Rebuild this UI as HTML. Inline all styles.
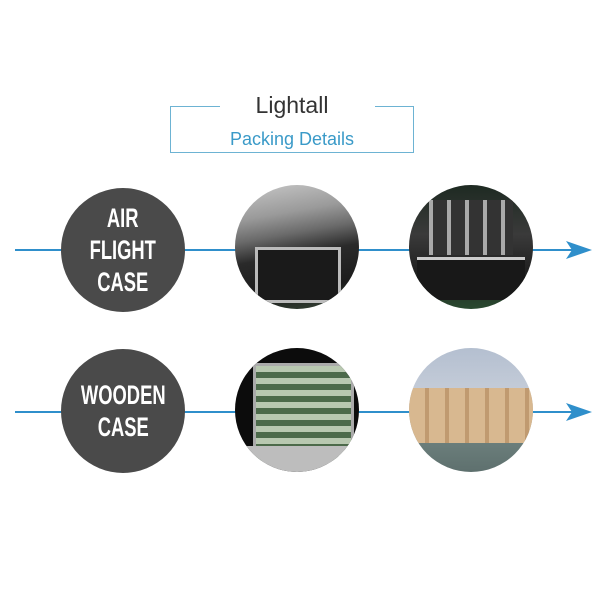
<!DOCTYPE html>
<html><head><style>
body{margin:0;background:#fff;width:600px;height:600px;overflow:hidden;position:relative;font-family:"Liberation Sans",sans-serif}
.a{position:absolute}
.c{position:absolute;border-radius:50%;overflow:hidden}
.dk{background:#4a4a4a;color:#fff;font-family:"Liberation Sans",sans-serif;font-weight:bold;text-align:center;display:flex;align-items:center;justify-content:center;font-size:27px;line-height:32px}
.dk span{display:inline-block;transform:scaleX(0.68)}
.ln{position:absolute;height:2px;background:#2f8fcb}
</style></head><body>
<div class="a" style="left:170px;top:106px;width:50px;height:1px;background:#6db3d3"></div>
<div class="a" style="left:375px;top:106px;width:39px;height:1px;background:#6db3d3"></div>
<div class="a" style="left:170px;top:106px;width:1px;height:47px;background:#6db3d3"></div>
<div class="a" style="left:413px;top:106px;width:1px;height:47px;background:#6db3d3"></div>
<div class="a" style="left:170px;top:152px;width:244px;height:1px;background:#6db3d3"></div>
<div class="a" style="left:217px;top:92px;width:150px;text-align:center;font-size:23px;color:#333">Lightall</div>
<div class="a" style="left:192px;top:129px;width:200px;text-align:center;font-size:18px;color:#3a9ac8">Packing Details</div>

<div class="ln" style="left:15px;top:249px;width:565px"></div>
<svg class="a" style="left:566px;top:241px" width="26" height="18"><polygon points="0,0 26,9 0,18 6,9" fill="#2f8fcb"/></svg>
<div class="ln" style="left:15px;top:411px;width:565px"></div>
<svg class="a" style="left:566px;top:403px" width="26" height="18"><polygon points="0,0 26,9 0,18 6,9" fill="#2f8fcb"/></svg>

<div class="c dk" style="left:61px;top:188px;width:124px;height:124px"><span>AIR<br>FLIGHT<br>CASE</span></div>
<div class="c dk" style="left:61px;top:349px;width:124px;height:124px"><span>WOODEN<br>CASE</span></div>

<div class="c" style="left:235px;top:185px;width:124px;height:124px;background:linear-gradient(170deg,#c8c8c8 0%,#9a9a9a 25%,#6a6a6a 40%,#2a2a2a 55%,#1c1c1c 80%,#3a4a3a 100%)">
<div class="a" style="left:20px;top:62px;width:80px;height:50px;background:#1a1a1a;border:3px solid #bbb"></div></div>
<div class="c" style="left:409px;top:185px;width:124px;height:124px;background:linear-gradient(180deg,#1e2a22 0%,#3a3a3a 40%,#202020 70%,#2a4a30 100%)">
<div class="a" style="left:20px;top:15px;width:84px;height:55px;background:repeating-linear-gradient(90deg,#aaa 0 4px,#333 4px 18px)"></div>
<div class="a" style="left:8px;top:72px;width:108px;height:40px;background:#181818;border-top:3px solid #ccc"></div></div>

<div class="c" style="left:235px;top:348px;width:124px;height:124px;background:#0c0c0c">
<div class="a" style="left:18px;top:15px;width:95px;height:95px;background:repeating-linear-gradient(180deg,#b8c8b0 0 6px,#4c6a4a 6px 12px);border:3px solid #aaa"></div>
<div class="a" style="left:0;top:98px;width:124px;height:30px;background:#bdbdbd"></div></div>
<div class="c" style="left:409px;top:348px;width:124px;height:124px;background:linear-gradient(180deg,#b4bfd0 0%,#c4ccd8 35%,#6c7f7c 75%,#5e706e 100%)">
<div class="a" style="left:0;top:40px;width:124px;height:55px;background:repeating-linear-gradient(90deg,#d8b890 0 16px,#c09a70 16px 20px)"></div></div>
</body></html>
